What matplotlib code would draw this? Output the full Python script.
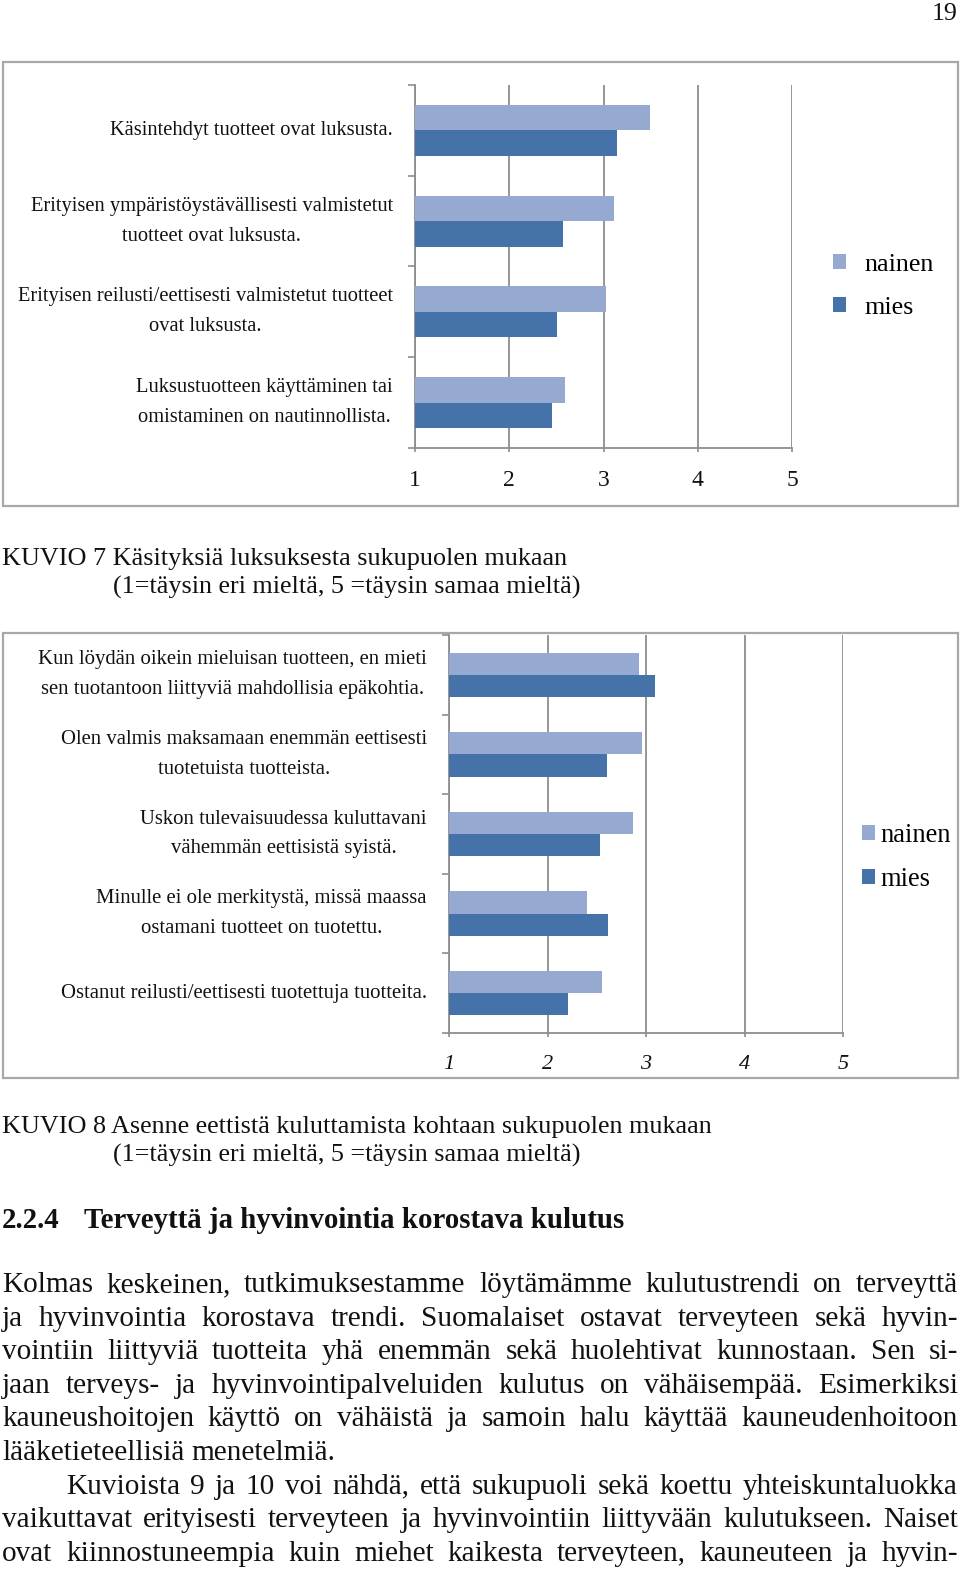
import matplotlib
matplotlib.use('Agg')
import matplotlib.pyplot as plt
from matplotlib.patches import Rectangle
import numpy as np

# ---------------- data ----------------
scale_ticks = [1, 2, 3, 4, 5]
series_names = ['nainen', 'mies']

cats1 = ["Käsintehdyt tuotteet ovat luksusta.",
         "Erityisen ympäristöystävällisesti valmistetut\ntuotteet ovat luksusta.",
         "Erityisen reilusti/eettisesti valmistetut tuotteet\novat luksusta.",
         "Luksustuotteen käyttäminen tai\nomistaminen on nautinnollista."]
nainen1 = [3.49, 3.11, 3.03, 2.59]
mies1 = [3.14, 2.57, 2.51, 2.45]

cats2 = ["Kun löydän oikein mieluisan tuotteen, en mieti\nsen tuotantoon liittyviä mahdollisia epäkohtia.",
         "Olen valmis maksamaan enemmän eettisesti\ntuotetuista tuotteista.",
         "Uskon tulevaisuudessa kuluttavani\nvähemmän eettisistä syistä.",
         "Minulle ei ole merkitystä, missä maassa\nostamani tuotteet on tuotettu.",
         "Ostanut reilusti/eettisesti tuotettuja tuotteita."]
nainen2 = [2.93, 2.96, 2.87, 2.40, 2.55]
mies2 = [3.09, 2.60, 2.53, 2.61, 2.21]

page_number = "19"
caption7 = ["KUVIO 7 Käsityksiä luksuksesta sukupuolen mukaan",
            "(1=täysin eri mieltä, 5 =täysin samaa mieltä)"]
caption8 = ["KUVIO 8 Asenne eettistä kuluttamista kohtaan sukupuolen mukaan",
            "(1=täysin eri mieltä, 5 =täysin samaa mieltä)"]
heading_num = "2.2.4"
heading_txt = "Terveyttä ja hyvinvointia korostava kulutus"
body_lines = [
    ("Kolmas keskeinen, tutkimuksestamme löytämämme kulutustrendi on terveyttä", True, False),
    ("ja hyvinvointia korostava trendi. Suomalaiset ostavat terveyteen sekä hyvin-", True, False),
    ("vointiin liittyviä tuotteita yhä enemmän sekä huolehtivat kunnostaan. Sen si-", True, False),
    ("jaan terveys- ja hyvinvointipalveluiden kulutus on vähäisempää. Esimerkiksi", True, False),
    ("kauneushoitojen käyttö on vähäistä ja samoin halu käyttää kauneudenhoitoon", True, False),
    ("lääketieteellisiä menetelmiä.", False, False),
    ("Kuvioista 9 ja 10 voi nähdä, että sukupuoli sekä koettu yhteiskuntaluokka", True, True),
    ("vaikuttavat erityisesti terveyteen ja hyvinvointiin liittyvään kulutukseen. Naiset", True, False),
    ("ovat kiinnostuneempia kuin miehet kaikesta terveyteen, kauneuteen ja hyvin-", True, False),
]

# ---------------- style ----------------
W, H = 960, 1570
C_N = '#95A9D1'
C_M = '#4572A8'
GRID = '#8e8e8e'
FRAME = '#a8a8a8'
INK = '#111111'
SERIF = ['Liberation Serif', 'DejaVu Serif']

fig = plt.figure(figsize=(W / 100, H / 100), dpi=100)
fig.patch.set_facecolor('white')
renderer = fig.canvas.get_renderer()


def fx(x):
    return x / W


def fy(y):
    return 1 - y / H


def text_width(s, size, **kw):
    t = fig.text(0, 0, s, fontsize=size, family=SERIF, **kw)
    w = t.get_window_extent(renderer).width
    t.remove()
    return w


def fit_size(s, target, **kw):
    return 20.0 * target / text_width(s, 20.0, **kw)


def put(x, y, s, size, ha='left', va='baseline', **kw):
    return fig.text(fx(x), fy(y), s, fontsize=size, family=SERIF, ha=ha, va=va,
                    color=INK, **kw)


# ---------------- frames ----------------
for (x0, y0, x1, y1) in [(2.5, 62, 957.5, 506), (2.5, 632.5, 957.5, 1077.5)]:
    fig.add_artist(Rectangle((fx(x0), fy(y1)), (x1 - x0) / W, (y1 - y0) / H,
                             transform=fig.transFigure, fill=False, ec=FRAME, lw=1.6))


def draw_chart(px, cats, nain, mies, label_fit, label_target, tick_size, italic,
               tick_pad_px, leg_x, leg_y, leg_gap, leg_row, leg_target):
    x0, y0, x1, y1 = px
    ax = fig.add_axes([fx(x0), fy(y1), (x1 - x0) / W, (y1 - y0) / H])
    n = len(cats)
    pos = np.arange(n)
    bh = 0.28
    b1 = ax.barh(pos - bh / 2, nain, height=bh, color=C_N, label=series_names[0], zorder=3)
    b2 = ax.barh(pos + bh / 2, mies, height=bh, color=C_M, label=series_names[1], zorder=3)
    ax.set_xlim(scale_ticks[0], scale_ticks[-1])
    ax.set_ylim(n - 0.5, -0.5)
    ax.set_axisbelow(True)
    ax.grid(axis='x', color=GRID, lw=1.3)
    for s in ['top', 'right']:
        ax.spines[s].set_visible(False)
    for s in ['left', 'bottom']:
        ax.spines[s].set_color(GRID)
        ax.spines[s].set_linewidth(1.3)
    ax.set_xticks(scale_ticks)
    ax.set_xticklabels([str(v) for v in scale_ticks])
    ax.set_yticks(np.arange(n + 1) - 0.5)
    ax.set_yticklabels([])
    ax.set_yticks(pos, minor=True)
    lab_size = fit_size(label_fit, label_target)
    ax.set_yticklabels(cats, minor=True)
    ax.tick_params(axis='y', which='major', length=7 * 0.72, width=1.2, color=GRID, direction='out')
    ax.tick_params(axis='y', which='minor', length=0, pad=22 * 0.72, labelsize=lab_size,
                   labelcolor=INK)
    ax.tick_params(axis='x', length=4 * 0.72, width=1.2, color=GRID, pad=tick_pad_px * 0.72,
                   labelsize=tick_size, labelcolor=INK)
    for lab in ax.get_yticklabels(minor=True):
        lab.set_family(SERIF)
        lab.set_multialignment('center')
        lab.set_linespacing(1.78)
        lab.set_va('center')
    for lab in ax.get_xticklabels():
        lab.set_family(SERIF)
        if italic:
            lab.set_style('italic')
    leg_size = fit_size('nainen', leg_target)
    fpx = leg_size * 100 / 72
    ax.legend(handles=[b1, b2], labels=series_names, loc='center left',
              bbox_to_anchor=(fx(leg_x), fy(leg_y)), bbox_transform=fig.transFigure,
              frameon=False, borderpad=0, borderaxespad=0,
              handlelength=13 / fpx, handleheight=13 / fpx, handletextpad=leg_gap / fpx,
              labelspacing=(leg_row - 1.15 * fpx) / fpx,
              prop={'family': SERIF, 'size': leg_size})
    return ax


draw_chart((415, 85, 792, 448), cats1, nainen1, mies1,
           "Erityisen reilusti/eettisesti valmistetut tuotteet", 377,
           17, False, 18, 833, 286.5, 18, 51, 70)
draw_chart((449, 635, 843, 1033), cats2, nainen2, mies2,
           "Kun löydän oikein mieluisan tuotteen, en mieti", 390,
           16, True, 18, 862, 857.5, 5, 49, 71)

# ---------------- page texts ----------------
pn_size = fit_size(page_number, 26)
put(958, 20, page_number, pn_size, ha='right')

cap_size = 0.5 * (fit_size(caption7[0], 561) + fit_size(caption8[0], 713))
put(2, 565, caption7[0], cap_size)
put(113, 593.5, caption7[1], cap_size)
put(2, 1133, caption8[0], cap_size)
put(113, 1162, caption8[1], cap_size)

head_size = fit_size(heading_txt, 538, fontweight='bold')
put(2, 1228.5, heading_num, head_size, fontweight='bold')
put(84, 1228.5, heading_txt, head_size, fontweight='bold')

body_size = fit_size(body_lines[5][0], 335)
space_w = text_width('a a', body_size) - text_width('aa', body_size)
base0, step = 1292.0, 33.6
for i, (line, justify, indent) in enumerate(body_lines):
    words = line.split(' ')
    widths = [text_width(w, body_size) for w in words]
    xs = 66.0 if indent else 2.0
    xe = 958.0
    if justify and len(words) > 1:
        gap = (xe - xs - sum(widths)) / (len(words) - 1)
    else:
        gap = space_w
    x = xs
    for w, wd in zip(words, widths):
        put(x, base0 + i * step, w, body_size)
        x += wd + gap

fig.savefig('out.png', dpi=100, facecolor='white')
